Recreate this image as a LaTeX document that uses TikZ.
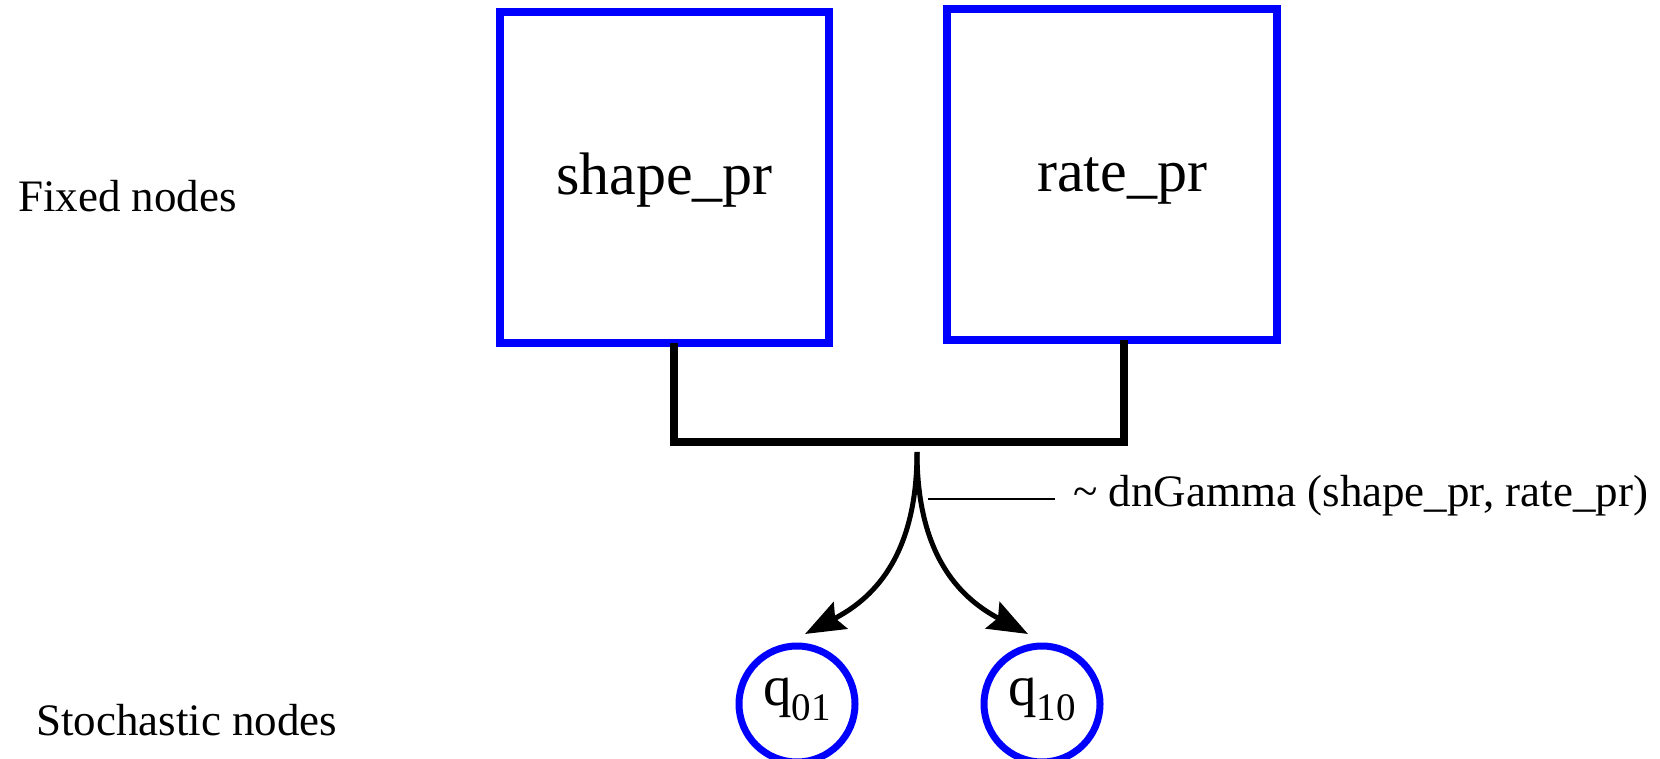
\documentclass[tikz,border=0pt]{standalone}
\usepackage{fontspec}
\setmainfont{Liberation Serif}
\usetikzlibrary{arrows.meta}
\definecolor{nodeblue}{RGB}{0,0,255}
\begin{document}
\begin{tikzpicture}[x=1pt,y=-1pt,
  fixedbox/.style={draw=nodeblue,line width=8pt,rectangle,inner sep=0pt,
    font=\fontsize{60}{60}\selectfont,text height=60pt,text depth=25pt},
  stochnode/.style={draw=nodeblue,line width=7pt,circle,inner sep=0pt,minimum size=116pt,
    font=\fontsize{57}{57}\selectfont,text height=20pt,text depth=18pt},
  sidelabel/.style={inner sep=0pt,anchor=base west,font=\fontsize{45}{45}\selectfont},
  bracketline/.style={draw=black,line width=8pt,line join=miter,line cap=rect},
  flowarrow/.style={draw=black,line width=5pt,-{Stealth[length=40pt,width=30pt,inset=6pt]}},
  annline/.style={draw=black,line width=2pt}]
\useasboundingbox (0,0) rectangle (1660,759);
\fill[white] (0,0) rectangle (1660,759);

% side labels
\node[sidelabel] (fixedlab) at (18,212) {Fixed nodes};
\node[sidelabel] (stochlab) at (36,735) {Stochastic nodes};

% fixed nodes
\node[fixedbox,minimum width=329pt,minimum height=331pt] (shape) at (664.5,177.5) {shape\_pr};
\node[fixedbox,minimum width=330pt,minimum height=331pt] (rate) at (1112,174.5) {\hspace*{20pt}rate\_pr};

% stochastic nodes
\node[stochnode] (q01) at (797,704) {q{\fontsize{39}{39}\selectfont\raisebox{-15pt}{01}}};
\node[stochnode] (q10) at (1042,704) {q{\fontsize{39}{39}\selectfont\raisebox{-15pt}{10}}};

% bracket joining the fixed nodes
\coordinate (bar) at (917,442);
\draw[bracketline] ([xshift=9.5pt]shape.south) -- ([xshift=9.5pt]shape.south |- bar)
  -- ([xshift=12pt]rate.south |- bar) -- ([xshift=12pt]rate.south);

% split into the stochastic nodes
\coordinate (split) at (917,452);
\coordinate (tipa) at (805,634);
\coordinate (tipb) at (1028,634);
\draw[flowarrow] (split) .. controls (917,560) and (870,600) .. (tipa);
\draw[flowarrow] (split) .. controls (917,560) and (964,600) .. (tipb);

% distribution annotation
\node[sidelabel] (dist) at (1073,506) {\textasciitilde\ dnGamma (shape\_pr, rate\_pr)};
\coordinate (annl) at (928,499);
\draw[annline] (annl) -- (annl -| dist.west) [shorten >=18pt];
\end{tikzpicture}
\end{document}
